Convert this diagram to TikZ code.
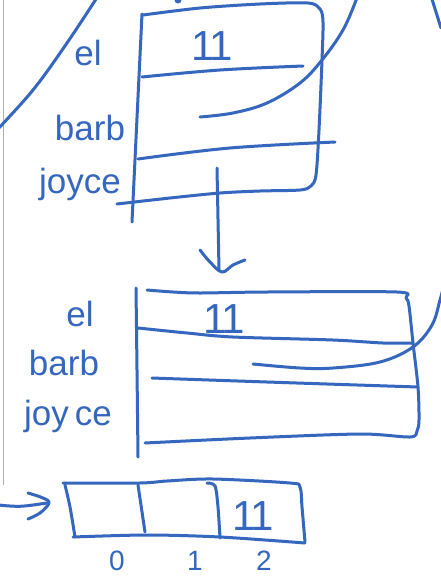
\documentclass[tikz,border=0pt]{standalone}
\usepackage{fontspec}
\setmainfont{Liberation Sans}
\definecolor{ink}{RGB}{52,103,189}
\definecolor{margin}{RGB}{175,175,175}

\begin{document}
\begin{tikzpicture}[x=1pt,y=-1pt,
  pen/.style={draw=ink,line width=3pt,line cap=round,line join=round},
  lbl/.style={text=ink,anchor=base,inner sep=0pt,font=\fontsize{35}{35}\selectfont},
  idx/.style={text=ink,anchor=base,inner sep=0pt,font=\fontsize{28}{28}\selectfont},
  val/.style={text=ink,anchor=base,inner sep=0pt,font=\fontsize{42}{42}\selectfont}]
\useasboundingbox (0,0) rectangle (440,576);
\fill[white] (0,0) rectangle (440,576);

% page margin rule
\draw[margin,line width=1pt] (3,0) -- (3,485);

% ---------- first table: el / barb / joyce ----------
\node[lbl] (el1) at (88,65) {el};
\node[lbl] (barb1) at (90,140) {barb};
\node[lbl] (joyce1) at (80,193) {joyce};
\node[val] (v1) at (212,60) {1\kern-5pt1};

\draw[pen] plot[smooth,tension=0.5] coordinates {(142,14) (137,118) (132,222)};
\draw[pen] plot[smooth,tension=0.5] coordinates
  {(143,15) (200,8) (260,4) (308,3) (320,9) (323,22) (322,60) (319,130) (316,175) (311,186) (300,190) (260,191) (220,193) (170,198) (117,204)};
\draw[pen] plot[smooth,tension=0.6] coordinates {(142,77) (220,70) (303,66)};
\draw[pen] plot[smooth,tension=0.6] coordinates {(138,159) (230,148) (335,142)};

% strokes crossing the first table
\draw[pen] plot[smooth,tension=0.6] coordinates {(-4,131) (33,90) (67,43) (98,-4)};
\draw[pen] plot[smooth,tension=0.6] coordinates
  {(200,117) (233,113) (267,103) (300,83) (322,60) (343,30) (357,-2) (360,-10)};
\draw[pen] (431,-4) -- (441,28);
\fill[ink] (178,0) circle (3.5pt);

% arrow down to the second table
\coordinate (a1s) at (217,168);
\coordinate (a1e) at (219,270);
\draw[pen] (a1s) -- (a1e);
\draw[pen] plot[smooth,tension=0.6] coordinates {(200,250) (210,262) (222,272) (233,265) (245,260)};

% ---------- second table ----------
\node[lbl] (el2) at (80,326) {el};
\node[lbl] (barb2) at (64,375) {barb};
\node[lbl] (joyce2) at (68,425) {joy\hspace{6pt}ce};
\node[val] (v2) at (224,333) {1\kern-6pt1};

\draw[pen] plot[smooth,tension=0.5] coordinates {(136,288) (137,370) (138,457)};
\draw[pen] plot[smooth,tension=0.5] coordinates
  {(147,290) (173,292) (200,293) (267,292) (397,292) (406,298) (409,306) (413,343) (418,387) (419,420) (417,431) (410,437) (360,434) (250,438) (145,443)};
\draw[pen] plot[smooth,tension=0.5] coordinates
  {(138,328) (187,333) (233,337) (333,340) (383,343) (413,343)};
\draw[pen] plot[smooth,tension=0.6] coordinates {(152,378) (267,382) (418,387)};
\draw[pen] plot[smooth,tension=0.6] coordinates
  {(253,364) (300,368) (333,368) (380,362) (413,347) (432,325) (440,300) (444,285)};

% ---------- array ----------
\draw[pen] plot[smooth,tension=0.5] coordinates
  {(63,483) (140,483) (167,481) (213,479) (290,483) (300,487) (302,507) (305,542)};
\draw[pen] plot[smooth,tension=0.5] coordinates {(65,485) (70,507) (75,537)};
\draw[pen] plot[smooth,tension=0.5] coordinates {(73,537) (147,535) (220,537) (305,543)};
\draw[pen] (138,485) -- (145,532);
\draw[pen] plot[smooth,tension=0.5] coordinates {(207,483) (215,486) (218,507) (220,538)};
\node[val] (v3) at (253,530) {1\kern-6pt1};

\node[idx] (i0) at (117,570) {0};
\node[idx] (i1) at (195,570) {1};
\node[idx] (i2) at (264,570) {2};

% arrow pointing at the array
\coordinate (a2s) at (-2,505);
\coordinate (a2e) at (47,503);
\draw[pen] (a2s) .. controls (20,507) .. (a2e);
\draw[pen] plot[smooth,tension=0.6] coordinates {(28,493) (43,498) (49,503) (40,513) (28,519)};
\end{tikzpicture}
\end{document}
